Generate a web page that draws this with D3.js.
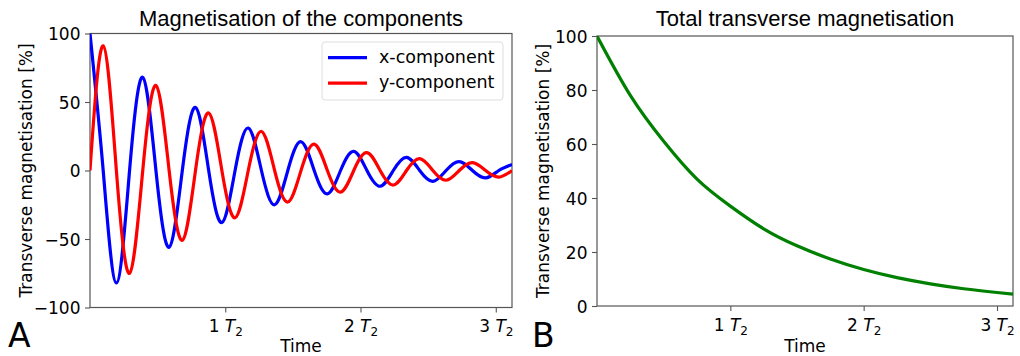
<!DOCTYPE html>
<html>
<head>
<meta charset="utf-8">
<script src="https://cdn.jsdelivr.net/npm/d3@7"></script>
<style>
  body { margin: 0; background: #fff; }
  text { font-family: "DejaVu Sans", sans-serif; fill: #000; }
  .title { font-family: "Liberation Sans", Arial, sans-serif; font-size: 22px; }
</style>
</head>
<body>
<div id="chart"></div>
<script>
// sample times in T2 units (quarter periods)
const times = [0, 0.0975, 0.195, 0.2925, 0.39, 0.4875, 0.585, 0.6825, 0.78, 0.8775,
  0.975, 1.0725, 1.17, 1.2675, 1.365, 1.4625, 1.56, 1.6575, 1.755, 1.8525,
  1.95, 2.0475, 2.145, 2.2425, 2.34, 2.4375, 2.535, 2.6325, 2.73, 2.8275,
  2.925, 3.0225, 3.12];
const xComp = [100, 0, -82, 0, 68, 0, -56, 0, 46, 0, -38, 0, 31, 0, -25, 0, 21, 0,
  -17, 0, 14, 0, -11.5, 0, 9.6, 0, -7.9, 0, 6.5, 0, -5.4, 0, 4.4];
const yComp = [0, 91, 0, -75, 0, 62, 0, -51, 0, 42, 0, -34.5, 0, 28.5, 0, -23, 0,
  19.3, 0, -15.8, 0, 13, 0, -10.6, 0, 8.7, 0, -7.1, 0, 5.8, 0, -4.8, 0];

const totalTimes = [0, 0.25, 0.5, 0.75, 1, 1.25, 1.5, 1.75, 2, 2.25, 2.5, 2.75, 3, 3.12];
const totalMag = [100, 78, 61, 47, 37, 28.6, 22.3, 17.4, 13.5, 10.5, 8.2, 6.4, 5.0, 4.4];

const xTicks = [1, 2, 3];
const leftYTicks = [-100, -50, 0, 50, 100];
const rightYTicks = [0, 20, 40, 60, 80, 100];

var width = 1020,
    height = 356;

var svg = d3.select("#chart")
    .append("svg")
    .attr("width", width)
    .attr("height", height);

const drawPanel = (box, yDomain, yTicks, title, letter, letterX, labelOffset) => {
    var x = d3.scaleLinear().domain([0, 3.12]).range([box.left, box.right]);
    var y = d3.scaleLinear().domain(yDomain).range([box.bottom, box.top]);

    var g = svg.append("g");
    var clipId = "clip" + letter;
    svg.append("clipPath").attr("id", clipId)
        .append("rect")
        .attr("x", box.left).attr("y", box.top)
        .attr("width", box.right - box.left)
        .attr("height", box.bottom - box.top);

    var xAxis = g.append("g")
        .attr("transform", "translate(0," + box.bottom + ")")
        .call(d3.axisBottom(x).tickValues(xTicks).tickSize(5).tickSizeOuter(0).tickFormat(""));
    xAxis.selectAll(".tick").append("text")
        .attr("y", 24.5)
        .attr("text-anchor", "middle")
        .style("font-size", "17px")
        .each(function (d) {
            var t = d3.select(this);
            t.append("tspan").text(d + " ");
            t.append("tspan").style("font-style", "italic").text("T");
            t.append("tspan").attr("dy", 4).style("font-size", "12px").text("2");
        });

    var yAxis = g.append("g")
        .attr("transform", "translate(" + box.left + ",0)")
        .call(d3.axisLeft(y).tickValues(yTicks).tickSize(5).tickSizeOuter(0));
    yAxis.selectAll(".tick text")
        .attr("x", -9.5)
        .attr("dy", "0.36em")
        .style("font-size", "17px")
        .style("font-family", "DejaVu Sans");

    g.selectAll(".domain").remove();
    g.selectAll(".tick line").attr("stroke", "#555").attr("stroke-width", 1.1);

    g.append("rect")
        .attr("x", box.left).attr("y", box.top)
        .attr("width", box.right - box.left)
        .attr("height", box.bottom - box.top)
        .attr("fill", "none")
        .attr("stroke", "#555")
        .attr("stroke-width", 1.2);

    svg.append("text").attr("class", "title")
        .attr("x", (box.left + box.right) / 2).attr("y", 26)
        .attr("text-anchor", "middle")
        .text(title);

    svg.append("text")
        .attr("x", (box.left + box.right) / 2).attr("y", 352)
        .attr("text-anchor", "middle")
        .style("font-size", "17px")
        .text("Time");

    svg.append("text")
        .attr("transform", "translate(" + (box.left - labelOffset) + "," + ((box.top + box.bottom) / 2) + ") rotate(-90)")
        .attr("text-anchor", "middle")
        .style("font-size", "17px")
        .text("Transverse magnetisation [%]");

    svg.append("text")
        .attr("x", letterX).attr("y", 347)
        .style("font-size", "33px")
        .text(letter);

    return { x: x, y: y, clip: "url(#" + clipId + ")" };
}

// Panel A
var a = drawPanel({ left: 90, right: 512, top: 33.5, bottom: 307.5 }, [-100, 100], leftYTicks,
    "Magnetisation of the components", "A", 8, 58);

var lineA = d3.line()
    .x((d, i) => a.x(times[i]))
    .y(d => a.y(d))
    .curve(d3.curveNatural);

svg.append("path").datum(xComp)
    .attr("d", lineA)
    .attr("clip-path", a.clip)
    .attr("fill", "none").attr("stroke", "#0000ff").attr("stroke-width", 3.2);

svg.append("path").datum(yComp)
    .attr("d", lineA)
    .attr("clip-path", a.clip)
    .attr("fill", "none").attr("stroke", "#ff0000").attr("stroke-width", 3.2);

// legend
var legend = svg.append("g");
legend.append("rect")
    .attr("x", 322).attr("y", 42).attr("width", 181).attr("height", 58).attr("rx", 3)
    .attr("fill", "#fff").attr("fill-opacity", 0.8)
    .attr("stroke", "#ddd");
[["x-component", "#0000ff"], ["y-component", "#ff0000"]].forEach((item, i) => {
    var ly = 57.7 + i * 25.5;
    legend.append("line")
        .attr("x1", 328).attr("x2", 367).attr("y1", ly).attr("y2", ly)
        .attr("stroke", item[1]).attr("stroke-width", 3.2);
    legend.append("text")
        .attr("x", 379).attr("y", ly + 5)
        .style("font-size", "17.5px")
        .text(item[0]);
});

// Panel B
var b = drawPanel({ left: 597, right: 1013, top: 36, bottom: 306 }, [0, 100], rightYTicks,
    "Total transverse magnetisation", "B", 532, 48);

var lineB = d3.line()
    .x((d, i) => b.x(totalTimes[i]))
    .y(d => b.y(d))
    .curve(d3.curveNatural);

svg.append("path").datum(totalMag)
    .attr("d", lineB)
    .attr("clip-path", b.clip)
    .attr("fill", "none").attr("stroke", "#008000").attr("stroke-width", 3.2);
</script>
</body>
</html>
